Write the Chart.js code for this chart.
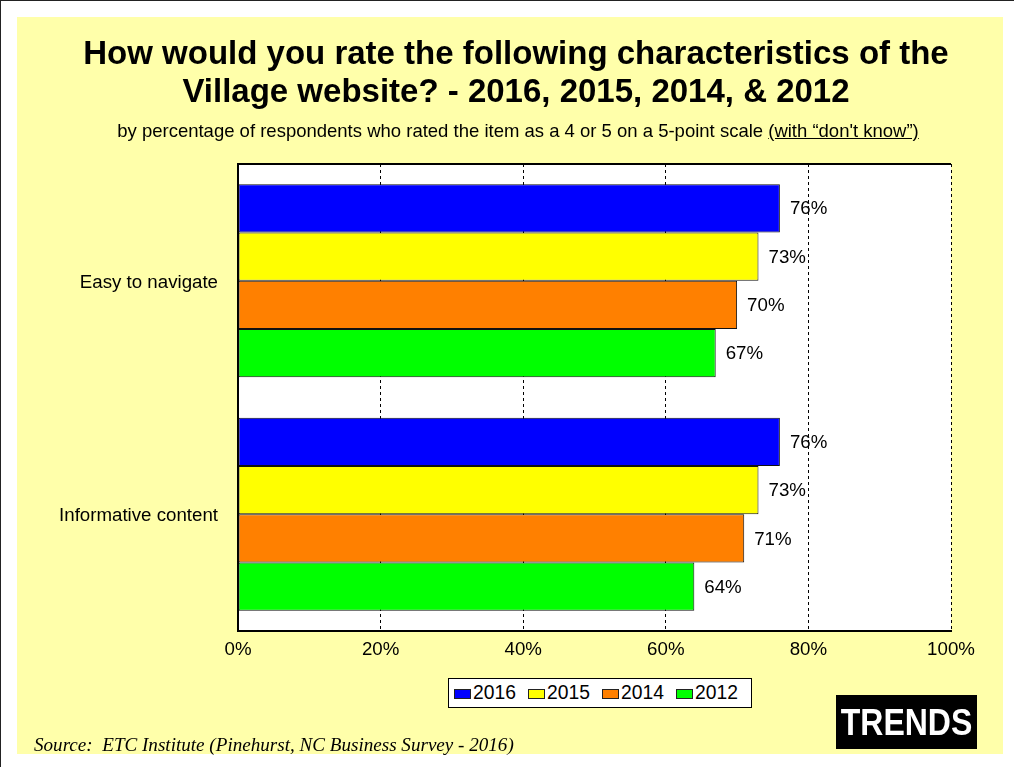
<!DOCTYPE html>
<html>
<head>
<meta charset="utf-8">
<script src="https://cdn.jsdelivr.net/npm/chart.js@4"></script>
<style>
  html, body { margin: 0; padding: 0; background: #ffffff; }
  #page { position: relative; width: 1014px; height: 767px; overflow: hidden; background: #fff;
          border-left: 1px solid #222; border-top: 1px solid #222; box-sizing: border-box; }
  #panel { position: absolute; left: 16px; top: 16px; width: 986px; height: 737px; background: #FFFFAA; }
  #chart { position: absolute; left: 0; top: 0; }
  .txt { position: absolute; font-family: Arial, "Liberation Sans", sans-serif; color: #000; white-space: nowrap; }
  #title { left: 0; width: 1030px; top: 33px; text-align: center; font-weight: bold; font-size: 33px; line-height: 38px; }
  #subtitle { left: 0; width: 1034px; top: 120px; text-align: center; font-size: 18.5px; line-height: 20px; }
  #subtitle u { text-decoration: underline; }
  #source { left: 33px; top: 734px; font-family: "Times New Roman", "Liberation Serif", serif; font-style: italic; font-size: 19.1px; line-height: 20px; }
  #trends { left: 835px; top: 694px; width: 141px; height: 54px; background: #000; color: #fff; font-weight: bold;
            font-size: 32px; line-height: 54px; text-align: center; }
  #trends span { display: inline-block; transform: scaleY(1.15); }
  #legend { left: 447px; top: 677px; width: 304px; height: 30px; background: #fff; border: 1px solid #000; box-sizing: border-box;
            font-size: 19.3px; line-height: 28px; padding-left: 5px; }
  #legend .item { display: inline-block; width: 74px; }
  #legend .sw { display: inline-block; width: 17px; height: 10px; border: 1px solid #222; box-sizing: border-box; margin-right: 2px; vertical-align: 0px; }
</style>
</head>
<body>
<div id="page">
  <div id="panel"></div>
  <canvas id="chart" width="1014" height="767"></canvas>
  <div class="txt" id="title">How would you rate the following characteristics of the<br>Village website? - 2016, 2015, 2014, &amp; 2012</div>
  <div class="txt" id="subtitle">by percentage of respondents who rated the item as a 4 or 5 on a 5-point scale <u>(with “don't know”)</u></div>
  <div class="txt" id="legend"></div>
  <div class="txt" id="trends"><span>TRENDS</span></div>
  <div class="txt" id="source">Source:&nbsp; ETC Institute (Pinehurst, NC Business Survey - 2016)</div>
</div>
<script>
// ---- data ----
const categories = ["Easy to navigate", "Informative content"];
const seriesNames = ["2016", "2015", "2014", "2012"];
const values2016 = [76, 76];
const values2015 = [73, 73];
const values2014 = [70, 71];
const values2012 = [67, 64];
const seriesColors = ["#0000FF", "#FFFF00", "#FF8000", "#00FF00"];
const xTicks = [0, 20, 40, 60, 80, 100];

const seriesValues = [values2016, values2015, values2014, values2012];
const FONT = 'Arial, "Liberation Sans", sans-serif';

const plotBg = {
  id: 'plotBg',
  beforeDraw(chart) {
    const {ctx, chartArea: a} = chart;
    ctx.save();
    ctx.fillStyle = '#ffffff';
    ctx.fillRect(a.left, a.top, a.right - a.left, a.bottom - a.top);
    ctx.restore();
  },
  afterDraw(chart) {
    const {ctx, chartArea: a} = chart;
    ctx.save();
    ctx.strokeStyle = '#000';
    ctx.lineWidth = 2;
    ctx.beginPath();
    ctx.moveTo(a.left - 1, a.top);
    ctx.lineTo(a.right, a.top);
    ctx.stroke();
    ctx.restore();
  }
};

const valueLabels = {
  id: 'valueLabels',
  afterDatasetsDraw(chart) {
    const {ctx} = chart;
    ctx.save();
    ctx.font = '18.7px ' + FONT;
    ctx.fillStyle = '#000';
    ctx.textAlign = 'left';
    ctx.textBaseline = 'middle';
    chart.data.datasets.forEach((ds, i) => {
      chart.getDatasetMeta(i).data.forEach((el, j) => {
        ctx.fillText(ds.data[j] + '%', el.x + 10, el.y + 1);
      });
    });
    ctx.restore();
  }
};

const chart = new Chart(document.getElementById('chart'), {
  type: 'bar',
  data: {
    labels: categories,
    datasets: seriesNames.map((n, i) => ({
      label: n,
      data: seriesValues[i],
      backgroundColor: seriesColors[i],
      borderColor: '#111',
      borderWidth: 1,
      borderSkipped: false,
      barPercentage: 1.0,
      categoryPercentage: 0.827
    }))
  },
  options: {
    responsive: false,
    animation: false,
    indexAxis: 'y',
    layout: { padding: { left: 0, top: 163, right: 64, bottom: 0 } },
    plugins: { legend: { display: false }, title: { display: false }, tooltip: { enabled: false } },
    scales: {
      x: {
        min: 0, max: 100,
        afterBuildTicks(scale) { scale.ticks = xTicks.map(v => ({ value: v })); },
        afterFit(scale) { scale.height = 767 - 630; },
        ticks: { callback: v => v + '%', font: { size: 18.7, family: FONT }, color: '#000', padding: 8, maxRotation: 0 },
        grid: { color: '#000', lineWidth: 1, drawTicks: false },
        border: { display: true, color: '#000', width: 2, dash: [3, 3] }
      },
      y: {
        afterFit(scale) { scale.width = 237; },
        ticks: { font: { size: 18.7, family: FONT }, color: '#000', padding: 20, labelOffset: 2 },
        grid: { display: false, drawTicks: false },
        border: { display: true, color: '#000', width: 2 }
      }
    }
  },
  plugins: [plotBg, valueLabels]
});

// legend built from series arrays
const legend = document.getElementById('legend');
seriesNames.forEach((n, i) => {
  const it = document.createElement('span');
  it.className = 'item';
  const sw = document.createElement('span');
  sw.className = 'sw';
  sw.style.background = seriesColors[i];
  it.appendChild(sw);
  it.appendChild(document.createTextNode(n));
  legend.appendChild(it);
});
</script>
</body>
</html>
